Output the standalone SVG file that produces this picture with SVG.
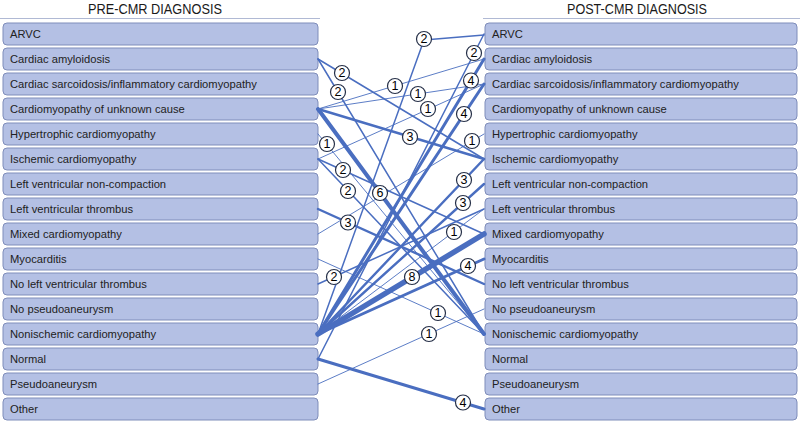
<svg xmlns="http://www.w3.org/2000/svg" width="800" height="423" viewBox="0 0 800 423">
<defs>
<style>
.box{fill:#b4c0e4;stroke:#7f8dba;stroke-width:1}
.bt{font-family:"Liberation Sans",Arial,sans-serif;font-size:11.2px;fill:#222}
.hd{font-family:"Liberation Sans",Arial,sans-serif;font-size:14.5px;fill:#1a1a1a;text-anchor:middle}
.rule{stroke:#b0b9d4;stroke-width:1.2}
.e{fill:none;stroke:#4a6ec0;stroke-linecap:round;stroke-linejoin:round}
.w1{stroke-width:0.9}.w2{stroke-width:1.5}.w3{stroke-width:2.4}.w4{stroke-width:3}.w6{stroke-width:4}.w8{stroke-width:5.5}
.lc{fill:#ffffff;stroke:#263048;stroke-width:1.2}
.lt{font-family:"Liberation Sans",Arial,sans-serif;font-size:12.5px;fill:#000;text-anchor:middle;dominant-baseline:central}
</style>
</defs>
<rect width="800" height="423" fill="#ffffff"/>
<text class="hd" x="155" y="14" textLength="134" lengthAdjust="spacingAndGlyphs">PRE-CMR DIAGNOSIS</text>
<text class="hd" x="637" y="14" textLength="140" lengthAdjust="spacingAndGlyphs">POST-CMR DIAGNOSIS</text>
<line class="rule" x1="0" y1="18.5" x2="320" y2="18.5"/>
<line class="rule" x1="483" y1="18.5" x2="800" y2="18.5"/>

<g id="pre">
<g id="pre-arvc"><rect class="box" x="3" y="23" width="315" height="22" rx="4"/><text class="bt" x="10" y="38">ARVC</text></g>
<g id="pre-amyloid"><rect class="box" x="3" y="48" width="315" height="22" rx="4"/><text class="bt" x="10" y="63">Cardiac amyloidosis</text></g>
<g id="pre-sarcoid"><rect class="box" x="3" y="73" width="315" height="22" rx="4"/><text class="bt" x="10" y="88">Cardiac sarcoidosis/inflammatory cardiomyopathy</text></g>
<g id="pre-unknown"><rect class="box" x="3" y="98" width="315" height="22" rx="4"/><text class="bt" x="10" y="113">Cardiomyopathy of unknown cause</text></g>
<g id="pre-hcm"><rect class="box" x="3" y="123" width="315" height="22" rx="4"/><text class="bt" x="10" y="138">Hypertrophic cardiomyopathy</text></g>
<g id="pre-ischemic"><rect class="box" x="3" y="148" width="315" height="22" rx="4"/><text class="bt" x="10" y="163">Ischemic cardiomyopathy</text></g>
<g id="pre-lvnc"><rect class="box" x="3" y="173" width="315" height="22" rx="4"/><text class="bt" x="10" y="188">Left ventricular non-compaction</text></g>
<g id="pre-lvt"><rect class="box" x="3" y="198" width="315" height="22" rx="4"/><text class="bt" x="10" y="213">Left ventricular thrombus</text></g>
<g id="pre-mixed"><rect class="box" x="3" y="223" width="315" height="22" rx="4"/><text class="bt" x="10" y="238">Mixed cardiomyopathy</text></g>
<g id="pre-myocarditis"><rect class="box" x="3" y="248" width="315" height="22" rx="4"/><text class="bt" x="10" y="263">Myocarditis</text></g>
<g id="pre-nolvt"><rect class="box" x="3" y="273" width="315" height="22" rx="4"/><text class="bt" x="10" y="288">No left ventricular thrombus</text></g>
<g id="pre-nopseudo"><rect class="box" x="3" y="298" width="315" height="22" rx="4"/><text class="bt" x="10" y="313">No pseudoaneurysm</text></g>
<g id="pre-nicm"><rect class="box" x="3" y="323" width="315" height="22" rx="4"/><text class="bt" x="10" y="338">Nonischemic cardiomyopathy</text></g>
<g id="pre-normal"><rect class="box" x="3" y="348" width="315" height="22" rx="4"/><text class="bt" x="10" y="363">Normal</text></g>
<g id="pre-pseudo"><rect class="box" x="3" y="373" width="315" height="22" rx="4"/><text class="bt" x="10" y="388">Pseudoaneurysm</text></g>
<g id="pre-other"><rect class="box" x="3" y="398" width="315" height="22" rx="4"/><text class="bt" x="10" y="413">Other</text></g>
</g>

<g id="post">
<g id="post-arvc"><rect class="box" x="485" y="23" width="312" height="22" rx="4"/><text class="bt" x="492" y="38">ARVC</text></g>
<g id="post-amyloid"><rect class="box" x="485" y="48" width="312" height="22" rx="4"/><text class="bt" x="492" y="63">Cardiac amyloidosis</text></g>
<g id="post-sarcoid"><rect class="box" x="485" y="73" width="312" height="22" rx="4"/><text class="bt" x="492" y="88">Cardiac sarcoidosis/inflammatory cardiomyopathy</text></g>
<g id="post-unknown"><rect class="box" x="485" y="98" width="312" height="22" rx="4"/><text class="bt" x="492" y="113">Cardiomyopathy of unknown cause</text></g>
<g id="post-hcm"><rect class="box" x="485" y="123" width="312" height="22" rx="4"/><text class="bt" x="492" y="138">Hypertrophic cardiomyopathy</text></g>
<g id="post-ischemic"><rect class="box" x="485" y="148" width="312" height="22" rx="4"/><text class="bt" x="492" y="163">Ischemic cardiomyopathy</text></g>
<g id="post-lvnc"><rect class="box" x="485" y="173" width="312" height="22" rx="4"/><text class="bt" x="492" y="188">Left ventricular non-compaction</text></g>
<g id="post-lvt"><rect class="box" x="485" y="198" width="312" height="22" rx="4"/><text class="bt" x="492" y="213">Left ventricular thrombus</text></g>
<g id="post-mixed"><rect class="box" x="485" y="223" width="312" height="22" rx="4"/><text class="bt" x="492" y="238">Mixed cardiomyopathy</text></g>
<g id="post-myocarditis"><rect class="box" x="485" y="248" width="312" height="22" rx="4"/><text class="bt" x="492" y="263">Myocarditis</text></g>
<g id="post-nolvt"><rect class="box" x="485" y="273" width="312" height="22" rx="4"/><text class="bt" x="492" y="288">No left ventricular thrombus</text></g>
<g id="post-nopseudo"><rect class="box" x="485" y="298" width="312" height="22" rx="4"/><text class="bt" x="492" y="313">No pseudoaneurysm</text></g>
<g id="post-nicm"><rect class="box" x="485" y="323" width="312" height="22" rx="4"/><text class="bt" x="492" y="338">Nonischemic cardiomyopathy</text></g>
<g id="post-normal"><rect class="box" x="485" y="348" width="312" height="22" rx="4"/><text class="bt" x="492" y="363">Normal</text></g>
<g id="post-pseudo"><rect class="box" x="485" y="373" width="312" height="22" rx="4"/><text class="bt" x="492" y="388">Pseudoaneurysm</text></g>
<g id="post-other"><rect class="box" x="485" y="398" width="312" height="22" rx="4"/><text class="bt" x="492" y="413">Other</text></g>
</g>

<g id="connectors">
<path class="e w2" d="M318,334 L424,40 L484,35"/>
<path class="e w2" d="M318,359 L484,34"/>
<path class="e w2" d="M318,59 L484,159"/>
<path class="e w2" d="M318,59 L484,334"/>
<path class="e w1" d="M318,109 L484,59"/>
<path class="e w1" d="M318,109 L484,84"/>
<path class="e w4" d="M318,334 L484,59"/>
<path class="e w1" d="M318,159 L484,84"/>
<path class="e w4" d="M318,334 L484,84"/>
<path class="e w1" d="M318,134 L484,334"/>
<path class="e w3" d="M318,109 L484,159"/>
<path class="e w1" d="M318,234 L484,134"/>
<path class="e w2" d="M318,159 L484,234"/>
<path class="e w6" d="M318,109 L484,334"/>
<path class="e w2" d="M318,159 L484,334"/>
<path class="e w3" d="M318,334 L484,159"/>
<path class="e w3" d="M318,334 L484,184"/>
<path class="e w3" d="M318,209 L484,284"/>
<path class="e w1" d="M318,334 L484,209"/>
<path class="e w4" d="M318,334 L484,259"/>
<path class="e w8" d="M318,334 L484,234"/>
<path class="e w2" d="M318,284 L484,209"/>
<path class="e w1" d="M318,259 L484,334"/>
<path class="e w1" d="M318,384 L484,309"/>
<path class="e w4" d="M318,359 L484,409"/>

<g id="labels">
<circle class="lc" cx="424" cy="39" r="7.5"/><text class="lt" x="424" y="39">2</text>
<circle class="lc" cx="474" cy="53" r="7.5"/><text class="lt" x="474" y="53">2</text>
<circle class="lc" cx="342" cy="73" r="7.5"/><text class="lt" x="342" y="73">2</text>
<circle class="lc" cx="338" cy="92" r="7.5"/><text class="lt" x="338" y="92">2</text>
<circle class="lc" cx="395" cy="86" r="7.5"/><text class="lt" x="395" y="86">1</text>
<circle class="lc" cx="418" cy="94" r="7.5"/><text class="lt" x="418" y="94">1</text>
<circle class="lc" cx="471" cy="80.5" r="7.5"/><text class="lt" x="471" y="80.5">4</text>
<circle class="lc" cx="428" cy="109" r="7.5"/><text class="lt" x="428" y="109">1</text>
<circle class="lc" cx="464" cy="114" r="7.5"/><text class="lt" x="464" y="114">4</text>
<circle class="lc" cx="327" cy="144" r="7.5"/><text class="lt" x="327" y="144">1</text>
<circle class="lc" cx="410" cy="137" r="7.5"/><text class="lt" x="410" y="137">3</text>
<circle class="lc" cx="472" cy="141" r="7.5"/><text class="lt" x="472" y="141">1</text>
<circle class="lc" cx="343" cy="170" r="7.5"/><text class="lt" x="343" y="170">2</text>
<circle class="lc" cx="380" cy="193" r="7.5"/><text class="lt" x="380" y="193">6</text>
<circle class="lc" cx="348" cy="191" r="7.5"/><text class="lt" x="348" y="191">2</text>
<circle class="lc" cx="464" cy="180" r="7.5"/><text class="lt" x="464" y="180">3</text>
<circle class="lc" cx="463" cy="203" r="7.5"/><text class="lt" x="463" y="203">3</text>
<circle class="lc" cx="348" cy="222.5" r="7.5"/><text class="lt" x="348" y="222.5">3</text>
<circle class="lc" cx="454" cy="232" r="7.5"/><text class="lt" x="454" y="232">1</text>
<circle class="lc" cx="468" cy="266" r="7.5"/><text class="lt" x="468" y="266">4</text>
<circle class="lc" cx="412" cy="277" r="7.5"/><text class="lt" x="412" y="277">8</text>
<circle class="lc" cx="334" cy="277" r="7.5"/><text class="lt" x="334" y="277">2</text>
<circle class="lc" cx="438" cy="313" r="7.5"/><text class="lt" x="438" y="313">1</text>
<circle class="lc" cx="429" cy="334" r="7.5"/><text class="lt" x="429" y="334">1</text>
<circle class="lc" cx="463" cy="402.5" r="7.5"/><text class="lt" x="463" y="402.5">4</text>
</g>
</g>
</svg>
